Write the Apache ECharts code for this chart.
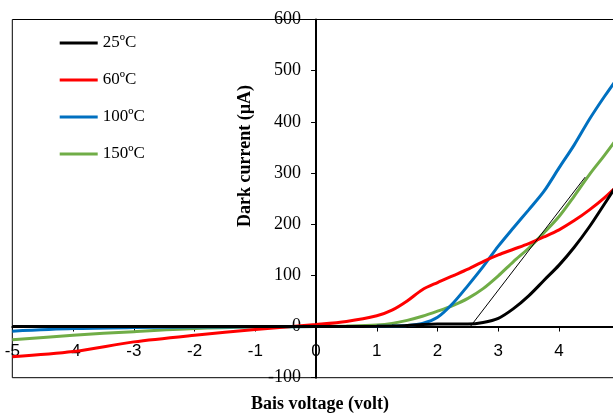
<!DOCTYPE html>
<html>
<head>
<meta charset="utf-8">
<script src="https://cdn.jsdelivr.net/npm/echarts@6/dist/echarts.min.js"></script>
<style>
  html, body { margin: 0; padding: 0; background: #fff; overflow: hidden; }
  #chart { width: 640px; height: 413px; }
</style>
</head>
<body>
<div id="chart"></div>
<script>
// Bias voltage (V) sample points shared by all curves
const voltage = [-5, -4, -3, -2, -1, 0, 0.5, 1, 1.25, 1.5, 1.75, 2, 2.25, 2.5, 2.75, 3, 3.25, 3.5, 3.75, 4, 4.25, 4.5, 4.75, 5];

// Dark current (µA) at each temperature
const current25 = [0, 0, 0, 0, 0, 0, 0, 0.5, 1, 2, 4, 5, 5, 5, 8, 16, 35, 60, 90, 120, 155, 195, 240, 285];
const current60 = [-59, -49, -30, -17, -6, 4, 10, 21, 32, 50, 72, 86, 99, 112, 127, 140, 151, 162, 175, 189, 207, 228, 252, 280];
const current100 = [-9, -4, -2, -1, -0.5, 0, 0, 0.5, 1, 2, 6, 18, 45, 80, 117, 157, 193, 228, 264, 310, 355, 405, 450, 492];
const current150 = [-26, -17, -10, -4, -1, 0, 1, 3, 6, 12, 20, 30, 41, 55, 74, 99, 127, 153, 183, 215, 255, 297, 335, 375];

// Linear extrapolation of the 25ºC curve (threshold voltage construction)
const tangentX = [2.54, 4.43];
const tangentY = [0, 292];

const seriesNames = ['25ºC', '60ºC', '100ºC', '150ºC'];
const seriesColors = ['#000000', '#FF0000', '#0070C0', '#70AD47'];
const seriesValues = [current25, current60, current100, current150];

const pairs = (xs, ys) => xs.map((x, i) => [x, ys[i]]);

const chart = echarts.init(document.getElementById('chart'), null, { renderer: 'canvas' });

const serif = '"Liberation Serif", "Times New Roman", serif';
const sans = '"Liberation Sans", Arial, sans-serif';

const gridBox = { left: 12.3, top: 19.5, width: 607.5, height: 358.2 };

const lineSeries = seriesNames.map((name, i) => ({
  name: name,
  type: 'line',
  data: pairs(voltage, seriesValues[i]),
  smooth: 0.3,
  showSymbol: false,
  symbol: 'none',
  lineStyle: { color: seriesColors[i], width: 3 },
  itemStyle: { color: seriesColors[i] },
  z: 3 + (3 - i)
}));

lineSeries.push({
  name: 'tangent',
  type: 'line',
  data: pairs(tangentX, tangentY),
  showSymbol: false,
  symbol: 'none',
  lineStyle: { color: '#000', width: 1 },
  z: 8
});

chart.setOption({
  animation: false,
  backgroundColor: '#fff',
  grid: Object.assign({
    containLabel: false,
    outerBoundsMode: 'none',
    show: true,
    borderColor: '#000',
    borderWidth: 1,
    backgroundColor: 'transparent'
  }, gridBox),
  legend: {
    data: seriesNames,
    orient: 'vertical',
    left: 59.7,
    top: 34.5,
    padding: 0,
    icon: 'rect',
    itemWidth: 38,
    itemHeight: 3,
    itemGap: 20,
    textStyle: { fontFamily: serif, fontSize: 17, color: '#000', lineHeight: 16 }
  },
  xAxis: {
    type: 'value',
    min: -5,
    max: 5,
    interval: 1,
    axisLine: { onZero: false, lineStyle: { color: '#000', width: 2 } },
    axisTick: { show: true, length: 5, lineStyle: { color: '#000', width: 1 } },
    axisLabel: { fontFamily: sans, fontSize: 17, color: '#000', margin: 16, showMinLabel: true, showMaxLabel: true },
    splitLine: { show: false },
    z: 2
  },
  yAxis: {
    type: 'value',
    min: -100,
    max: 600,
    interval: 100,
    axisLine: { onZero: false, lineStyle: { color: '#000', width: 2 } },
    axisTick: { show: true, length: 5, lineStyle: { color: '#000', width: 1 } },
    axisLabel: { fontFamily: serif, fontSize: 18, color: '#000', margin: 15 },
    splitLine: { show: false },
    z: 2
  },
  graphic: [
    {
      type: 'text',
      x: 245,
      y: 156,
      rotation: Math.PI / 2,
      style: {
        text: 'Dark current (µA)',
        font: 'bold 18px ' + serif,
        fill: '#000',
        textAlign: 'center',
        textVerticalAlign: 'middle'
      }
    },
    {
      type: 'text',
      x: 320,
      y: 404,
      style: {
        text: 'Bais voltage (volt)',
        font: 'bold 18px ' + serif,
        fill: '#000',
        textAlign: 'center',
        textVerticalAlign: 'middle'
      }
    }
  ],
  series: lineSeries
});

// Move both axes so they cross at the origin (labels travel with the lines)
const origin = chart.convertToPixel({ gridIndex: 0 }, [0, 0]);
const gridBottom = gridBox.top + gridBox.height;
chart.setOption({
  xAxis: { offset: origin[1] - gridBottom },
  yAxis: { offset: gridBox.left - origin[0] }
});
</script>
</body>
</html>
